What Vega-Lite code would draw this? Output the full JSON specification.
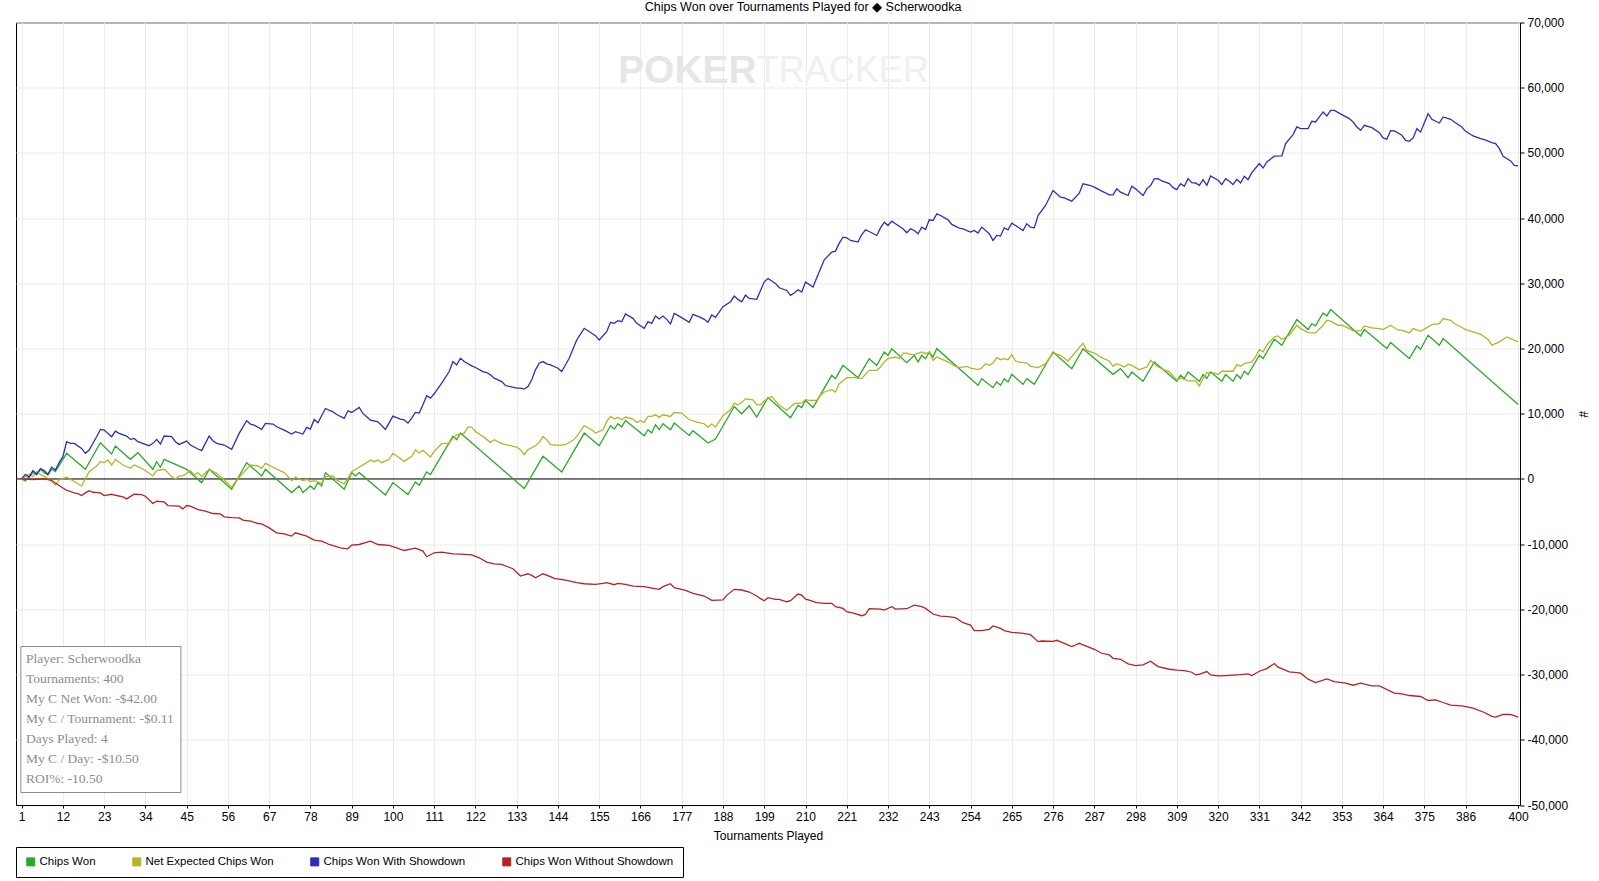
{
  "$schema": "https://vega.github.io/schema/vega-lite/v6.json",
  "description": "Chips won over tournaments played, PokerTracker style.",
  "width": 1504,
  "height": 782.5,
  "autosize": {"type": "none"},
  "padding": {"left": 16, "top": 22.5, "right": 79, "bottom": 76},
  "background": "white",
  "title": {
    "text": "Chips Won over Tournaments Played for ◆ Scherwoodka",
    "font": "Liberation Sans",
    "fontSize": 12.5,
    "fontWeight": "normal",
    "color": "black",
    "offset": 3,
    "dx": 35
  },
  "datasets": {
    "chipsWon": [
      {"t":1,"chips":0},{"t":2,"chips":-300},{"t":3,"chips":400},{"t":4,"chips":970},{"t":5,"chips":610},{"t":6,"chips":1480},{"t":7,"chips":970},{"t":8,"chips":610},{"t":9,"chips":1480},{"t":10,"chips":1120},
      {"t":13,"chips":3930},{"t":18,"chips":1480},{"t":22,"chips":5560},{"t":25,"chips":3830},{"t":26,"chips":5050},{"t":30,"chips":3010},{"t":32,"chips":4030},{"t":36,"chips":1480},{"t":37,"chips":2650},{"t":38,"chips":1790},
      {"t":39,"chips":3010},{"t":45,"chips":1480},{"t":49,"chips":-560},{"t":51,"chips":1480},{"t":57,"chips":-1580},{"t":61,"chips":2500},{"t":65,"chips":460},{"t":66,"chips":1480},{"t":73,"chips":-2090},{"t":75,"chips":-1070},
      {"t":76,"chips":-2090},{"t":78,"chips":-1070},{"t":79,"chips":-1580},{"t":80,"chips":-560},{"t":81,"chips":-1070},{"t":82,"chips":970},{"t":87,"chips":-1580},{"t":89,"chips":970},{"t":90,"chips":460},{"t":91,"chips":970},
      {"t":98,"chips":-2450},{"t":100,"chips":-560},{"t":104,"chips":-2400},{"t":106,"chips":-460},{"t":107,"chips":-970},{"t":109,"chips":1070},{"t":110,"chips":660},{"t":116,"chips":6530},{"t":117,"chips":6020},{"t":118,"chips":7040},
      {"t":135,"chips":-1480},{"t":140,"chips":3470},{"t":145,"chips":1070},{"t":151,"chips":7040},{"t":155,"chips":5100},{"t":158,"chips":8160},{"t":159,"chips":7650},{"t":160,"chips":8470},{"t":161,"chips":7960},{"t":162,"chips":8980},
      {"t":167,"chips":6630},{"t":168,"chips":7550},{"t":169,"chips":7040},{"t":170,"chips":8310},{"t":171,"chips":7550},{"t":172,"chips":8470},{"t":174,"chips":7550},{"t":175,"chips":8570},{"t":179,"chips":6680},{"t":180,"chips":7400},
      {"t":184,"chips":5510},{"t":186,"chips":6120},{"t":191,"chips":11120},{"t":193,"chips":10000},{"t":195,"chips":11220},{"t":197,"chips":9490},{"t":200,"chips":12500},{"t":206,"chips":9400},{"t":208,"chips":11290},{"t":209,"chips":10940},
      {"t":210,"chips":12060},{"t":212,"chips":10940},{"t":217,"chips":15890},{"t":218,"chips":15380},{"t":220,"chips":17420},{"t":224,"chips":15530},{"t":227,"chips":18440},{"t":229,"chips":17420},{"t":231,"chips":19470},{"t":232,"chips":18950},
      {"t":233,"chips":19980},{"t":237,"chips":17830},{"t":239,"chips":18950},{"t":240,"chips":17930},{"t":241,"chips":18950},{"t":242,"chips":18440},{"t":243,"chips":19470},{"t":244,"chips":18700},{"t":245,"chips":19980},{"t":256,"chips":14360},
      {"t":257,"chips":15380},{"t":260,"chips":14000},{"t":261,"chips":14870},{"t":262,"chips":14360},{"t":263,"chips":15380},{"t":264,"chips":14870},{"t":265,"chips":16040},{"t":268,"chips":14510},{"t":269,"chips":15380},{"t":271,"chips":14510},
      {"t":276,"chips":19470},{"t":281,"chips":16910},{"t":284,"chips":19980},{"t":292,"chips":16040},{"t":294,"chips":16910},{"t":296,"chips":15530},{"t":297,"chips":16400},{"t":300,"chips":14970},{"t":303,"chips":17930},{"t":309,"chips":14990},
      {"t":310,"chips":15910},{"t":311,"chips":15400},{"t":312,"chips":16420},{"t":315,"chips":14990},{"t":316,"chips":16010},{"t":317,"chips":15400},{"t":318,"chips":16420},{"t":321,"chips":14990},{"t":322,"chips":16010},{"t":324,"chips":14990},
      {"t":325,"chips":16010},{"t":326,"chips":15400},{"t":327,"chips":16520},{"t":328,"chips":16010},{"t":331,"chips":18980},{"t":332,"chips":18470},{"t":335,"chips":21430},{"t":337,"chips":20510},{"t":341,"chips":24440},{"t":344,"chips":22910},
      {"t":345,"chips":23830},{"t":346,"chips":23470},{"t":348,"chips":25460},{"t":349,"chips":25000},{"t":350,"chips":25980},{"t":358,"chips":21940},{"t":359,"chips":22910},{"t":365,"chips":20000},{"t":366,"chips":20920},{"t":371,"chips":18470},
      {"t":373,"chips":20410},{"t":374,"chips":19890},{"t":376,"chips":22040},{"t":379,"chips":20510},{"t":380,"chips":21530},{"t":400,"chips":11410}
    ],
    "netExpected": [
      {"t":1,"chips":-150},{"t":2,"chips":360},{"t":3,"chips":770},{"t":4,"chips":360},{"t":5,"chips":1120},{"t":6,"chips":710},{"t":8,"chips":100},{"t":9,"chips":-410},{"t":10,"chips":-920},{"t":11,"chips":-150},
      {"t":13,"chips":260},{"t":14,"chips":-50},{"t":17,"chips":-1070},{"t":19,"chips":1120},{"t":21,"chips":1990},{"t":22,"chips":2650},{"t":23,"chips":2500},{"t":24,"chips":2910},{"t":25,"chips":2140},{"t":26,"chips":3010},
      {"t":28,"chips":2140},{"t":30,"chips":1630},{"t":31,"chips":2140},{"t":33,"chips":1630},{"t":35,"chips":870},{"t":36,"chips":460},{"t":37,"chips":1280},{"t":39,"chips":1480},{"t":40,"chips":970},{"t":41,"chips":360},
      {"t":42,"chips":-50},{"t":43,"chips":460},{"t":44,"chips":460},{"t":46,"chips":1280},{"t":47,"chips":610},{"t":48,"chips":970},{"t":49,"chips":360},{"t":50,"chips":970},{"t":51,"chips":1480},{"t":53,"chips":870},
      {"t":55,"chips":-150},{"t":57,"chips":-1280},{"t":58,"chips":-410},{"t":62,"chips":2140},{"t":64,"chips":1990},{"t":65,"chips":1630},{"t":66,"chips":2400},{"t":68,"chips":1790},{"t":71,"chips":970},{"t":73,"chips":-260},
      {"t":74,"chips":260},{"t":76,"chips":-260},{"t":77,"chips":-50},{"t":78,"chips":-410},{"t":79,"chips":-260},{"t":81,"chips":-660},{"t":82,"chips":360},{"t":84,"chips":460},{"t":85,"chips":-150},{"t":87,"chips":-770},
      {"t":88,"chips":100},{"t":89,"chips":1120},{"t":91,"chips":1790},{"t":93,"chips":2500},{"t":94,"chips":2910},{"t":95,"chips":2650},{"t":96,"chips":2910},{"t":97,"chips":2500},{"t":99,"chips":3010},{"t":100,"chips":3930},
      {"t":103,"chips":2700},{"t":105,"chips":3470},{"t":106,"chips":4490},{"t":107,"chips":3980},{"t":108,"chips":4390},{"t":110,"chips":3370},{"t":111,"chips":4230},{"t":113,"chips":5410},{"t":115,"chips":5510},{"t":116,"chips":6270},
      {"t":117,"chips":6780},{"t":119,"chips":7040},{"t":120,"chips":7960},{"t":121,"chips":7960},{"t":122,"chips":7290},{"t":124,"chips":6530},{"t":126,"chips":5610},{"t":127,"chips":6020},{"t":129,"chips":5410},{"t":131,"chips":5150},
      {"t":133,"chips":4900},{"t":134,"chips":4490},{"t":135,"chips":3720},{"t":136,"chips":4490},{"t":138,"chips":5100},{"t":139,"chips":5610},{"t":140,"chips":6530},{"t":141,"chips":6020},{"t":142,"chips":5250},{"t":144,"chips":5150},
      {"t":146,"chips":5250},{"t":148,"chips":5920},{"t":149,"chips":6530},{"t":151,"chips":8160},{"t":153,"chips":7550},{"t":154,"chips":7040},{"t":156,"chips":7550},{"t":157,"chips":8820},{"t":158,"chips":9590},{"t":159,"chips":9230},
      {"t":160,"chips":9440},{"t":161,"chips":9080},{"t":162,"chips":9490},{"t":164,"chips":9180},{"t":165,"chips":8670},{"t":166,"chips":8930},{"t":167,"chips":8670},{"t":168,"chips":9590},{"t":169,"chips":9590},{"t":170,"chips":9840},
      {"t":171,"chips":9440},{"t":172,"chips":9840},{"t":174,"chips":9590},{"t":175,"chips":10200},{"t":177,"chips":10100},{"t":179,"chips":9080},{"t":181,"chips":8720},{"t":183,"chips":8470},{"t":184,"chips":7960},{"t":185,"chips":8420},
      {"t":186,"chips":7960},{"t":188,"chips":9690},{"t":190,"chips":10610},{"t":191,"chips":11630},{"t":192,"chips":11370},{"t":193,"chips":11730},{"t":194,"chips":12290},{"t":196,"chips":12140},{"t":197,"chips":11370},{"t":198,"chips":11370},
      {"t":199,"chips":11990},{"t":201,"chips":12650},{"t":203,"chips":11290},{"t":205,"chips":10530},{"t":207,"chips":11550},{"t":209,"chips":11650},{"t":210,"chips":12160},{"t":211,"chips":12060},{"t":213,"chips":12060},{"t":214,"chips":12830},
      {"t":215,"chips":13340},{"t":217,"chips":13690},{"t":218,"chips":13340},{"t":219,"chips":14610},{"t":221,"chips":15530},{"t":223,"chips":15530},{"t":225,"chips":15380},{"t":226,"chips":16040},{"t":227,"chips":16660},{"t":229,"chips":16660},
      {"t":230,"chips":17170},{"t":231,"chips":17930},{"t":232,"chips":18440},{"t":234,"chips":18700},{"t":235,"chips":18440},{"t":236,"chips":19310},{"t":237,"chips":19310},{"t":238,"chips":19110},{"t":239,"chips":19060},{"t":241,"chips":19470},
      {"t":242,"chips":19210},{"t":243,"chips":19470},{"t":244,"chips":18190},{"t":245,"chips":18700},{"t":246,"chips":18440},{"t":248,"chips":17930},{"t":250,"chips":17270},{"t":251,"chips":17070},{"t":253,"chips":17270},{"t":254,"chips":17010},
      {"t":256,"chips":16760},{"t":257,"chips":17010},{"t":258,"chips":17680},{"t":259,"chips":17420},{"t":260,"chips":17780},{"t":261,"chips":18600},{"t":262,"chips":18290},{"t":263,"chips":18440},{"t":264,"chips":18290},{"t":265,"chips":19060},
      {"t":266,"chips":18090},{"t":267,"chips":17930},{"t":269,"chips":17780},{"t":270,"chips":17270},{"t":272,"chips":17070},{"t":274,"chips":17680},{"t":276,"chips":19310},{"t":278,"chips":18960},{"t":280,"chips":18090},{"t":284,"chips":20840},
      {"t":285,"chips":19720},{"t":287,"chips":19310},{"t":289,"chips":18600},{"t":291,"chips":18090},{"t":292,"chips":17270},{"t":293,"chips":17680},{"t":295,"chips":17170},{"t":296,"chips":17580},{"t":297,"chips":17420},{"t":299,"chips":16760},
      {"t":301,"chips":17170},{"t":302,"chips":18190},{"t":304,"chips":17170},{"t":307,"chips":16420},{"t":309,"chips":15140},{"t":310,"chips":15500},{"t":312,"chips":15040},{"t":314,"chips":15040},{"t":315,"chips":14270},{"t":316,"chips":15400},
      {"t":317,"chips":16320},{"t":318,"chips":16160},{"t":319,"chips":16270},{"t":320,"chips":16010},{"t":321,"chips":16520},{"t":323,"chips":16520},{"t":324,"chips":16520},{"t":325,"chips":17540},{"t":326,"chips":17290},{"t":327,"chips":17700},
      {"t":329,"chips":17950},{"t":330,"chips":18720},{"t":331,"chips":19840},{"t":332,"chips":19490},{"t":333,"chips":20510},{"t":335,"chips":21790},{"t":336,"chips":21940},{"t":337,"chips":21380},{"t":339,"chips":22040},{"t":341,"chips":23570},
      {"t":342,"chips":23060},{"t":344,"chips":22450},{"t":346,"chips":22400},{"t":348,"chips":23570},{"t":349,"chips":24340},{"t":350,"chips":24190},{"t":352,"chips":23570},{"t":353,"chips":23570},{"t":355,"chips":23060},{"t":356,"chips":22710},
      {"t":358,"chips":22710},{"t":359,"chips":23470},{"t":361,"chips":23170},{"t":363,"chips":23060},{"t":364,"chips":22910},{"t":366,"chips":23570},{"t":368,"chips":22810},{"t":369,"chips":22810},{"t":371,"chips":22400},{"t":372,"chips":23060},
      {"t":374,"chips":22650},{"t":376,"chips":23320},{"t":377,"chips":23680},{"t":379,"chips":23830},{"t":380,"chips":24600},{"t":382,"chips":24340},{"t":383,"chips":23830},{"t":385,"chips":23220},{"t":386,"chips":22910},{"t":388,"chips":22550},
      {"t":390,"chips":22190},{"t":392,"chips":21380},{"t":393,"chips":20510},{"t":395,"chips":21020},{"t":397,"chips":21790},{"t":398,"chips":21530},{"t":400,"chips":21020}
    ],
    "withShowdown": [
      {"t":1,"chips":0},{"t":2,"chips":710},{"t":3,"chips":260},{"t":4,"chips":1280},{"t":5,"chips":710},{"t":6,"chips":1580},{"t":7,"chips":1280},{"t":8,"chips":710},{"t":9,"chips":1790},{"t":10,"chips":1380},
      {"t":11,"chips":2500},{"t":12,"chips":3420},{"t":13,"chips":5710},{"t":14,"chips":5460},{"t":15,"chips":5460},{"t":17,"chips":4690},{"t":18,"chips":3930},{"t":19,"chips":4440},{"t":21,"chips":6480},{"t":22,"chips":7600},
      {"t":23,"chips":7500},{"t":25,"chips":6480},{"t":26,"chips":7340},{"t":27,"chips":6990},{"t":29,"chips":6580},{"t":30,"chips":6070},{"t":31,"chips":6220},{"t":32,"chips":5710},{"t":34,"chips":5300},{"t":35,"chips":5100},
      {"t":36,"chips":5460},{"t":37,"chips":6070},{"t":38,"chips":5360},{"t":39,"chips":6580},{"t":41,"chips":6480},{"t":42,"chips":5710},{"t":43,"chips":5300},{"t":45,"chips":5810},{"t":46,"chips":5200},{"t":48,"chips":4590},
      {"t":49,"chips":4340},{"t":51,"chips":6580},{"t":52,"chips":5870},{"t":53,"chips":5460},{"t":55,"chips":5200},{"t":57,"chips":4540},{"t":59,"chips":6990},{"t":61,"chips":8930},{"t":62,"chips":8420},{"t":63,"chips":8260},
      {"t":65,"chips":7600},{"t":66,"chips":8520},{"t":68,"chips":8420},{"t":69,"chips":8010},{"t":71,"chips":7500},{"t":73,"chips":6890},{"t":74,"chips":7240},{"t":76,"chips":6890},{"t":77,"chips":7910},{"t":78,"chips":7650},
      {"t":79,"chips":9130},{"t":80,"chips":8620},{"t":82,"chips":10810},{"t":84,"chips":10300},{"t":85,"chips":9890},{"t":87,"chips":9280},{"t":88,"chips":10460},{"t":89,"chips":10200},{"t":91,"chips":10970},{"t":92,"chips":10050},
      {"t":94,"chips":9030},{"t":96,"chips":8770},{"t":98,"chips":7600},{"t":100,"chips":9640},{"t":102,"chips":9180},{"t":103,"chips":9080},{"t":104,"chips":8570},{"t":105,"chips":9330},{"t":106,"chips":10200},{"t":107,"chips":10100},
      {"t":108,"chips":11370},{"t":109,"chips":12750},{"t":110,"chips":12390},{"t":111,"chips":13060},{"t":113,"chips":14690},{"t":115,"chips":16470},{"t":116,"chips":18000},{"t":117,"chips":17490},{"t":118,"chips":18510},{"t":119,"chips":18000},
      {"t":121,"chips":17340},{"t":122,"chips":17090},{"t":124,"chips":16470},{"t":125,"chips":16320},{"t":126,"chips":15960},{"t":127,"chips":15450},{"t":129,"chips":14940},{"t":130,"chips":14330},{"t":131,"chips":14180},{"t":133,"chips":13920},
      {"t":134,"chips":13920},{"t":135,"chips":13770},{"t":136,"chips":14180},{"t":137,"chips":15200},{"t":138,"chips":16730},{"t":139,"chips":17750},{"t":140,"chips":18000},{"t":141,"chips":17650},{"t":142,"chips":17490},{"t":144,"chips":16980},
      {"t":145,"chips":16470},{"t":147,"chips":18510},{"t":149,"chips":21320},{"t":151,"chips":23100},{"t":153,"chips":22340},{"t":154,"chips":21980},{"t":155,"chips":21320},{"t":157,"chips":22590},{"t":158,"chips":24020},{"t":159,"chips":23870},
      {"t":160,"chips":24280},{"t":161,"chips":24120},{"t":162,"chips":25300},{"t":164,"chips":24630},{"t":165,"chips":23870},{"t":167,"chips":23100},{"t":168,"chips":24120},{"t":169,"chips":23870},{"t":170,"chips":24990},{"t":171,"chips":24530},
      {"t":172,"chips":24990},{"t":173,"chips":24480},{"t":174,"chips":23770},{"t":175,"chips":25400},{"t":177,"chips":24740},{"t":179,"chips":24020},{"t":180,"chips":25250},{"t":182,"chips":24790},{"t":183,"chips":24480},{"t":184,"chips":24020},
      {"t":185,"chips":25140},{"t":186,"chips":24790},{"t":188,"chips":26420},{"t":190,"chips":27180},{"t":191,"chips":28050},{"t":192,"chips":27540},{"t":193,"chips":27180},{"t":194,"chips":28200},{"t":195,"chips":27690},{"t":197,"chips":27540},
      {"t":199,"chips":30240},{"t":200,"chips":30750},{"t":202,"chips":29990},{"t":203,"chips":29320},{"t":205,"chips":28910},{"t":206,"chips":28150},{"t":207,"chips":28510},{"t":208,"chips":29020},{"t":209,"chips":28660},{"t":210,"chips":30190},
      {"t":211,"chips":29830},{"t":212,"chips":29420},{"t":213,"chips":30850},{"t":214,"chips":32230},{"t":215,"chips":33610},{"t":217,"chips":34790},{"t":218,"chips":34940},{"t":219,"chips":36170},{"t":220,"chips":37080},{"t":221,"chips":36980},
      {"t":222,"chips":36570},{"t":224,"chips":36320},{"t":225,"chips":37490},{"t":226,"chips":38210},{"t":227,"chips":37950},{"t":229,"chips":37340},{"t":230,"chips":38510},{"t":231,"chips":39380},{"t":232,"chips":38870},{"t":233,"chips":39540},
      {"t":234,"chips":39130},{"t":236,"chips":38360},{"t":237,"chips":37750},{"t":238,"chips":38360},{"t":239,"chips":38110},{"t":240,"chips":37600},{"t":241,"chips":38620},{"t":242,"chips":38260},{"t":243,"chips":39740},{"t":244,"chips":39640},
      {"t":245,"chips":40660},{"t":246,"chips":40400},{"t":248,"chips":39740},{"t":249,"chips":39030},{"t":251,"chips":38460},{"t":252,"chips":38360},{"t":254,"chips":37850},{"t":255,"chips":38110},{"t":256,"chips":37700},{"t":257,"chips":38620},
      {"t":259,"chips":37600},{"t":260,"chips":36570},{"t":261,"chips":37340},{"t":262,"chips":37240},{"t":263,"chips":38510},{"t":264,"chips":38210},{"t":265,"chips":39230},{"t":266,"chips":38870},{"t":268,"chips":38110},{"t":269,"chips":39130},
      {"t":270,"chips":38620},{"t":271,"chips":38510},{"t":272,"chips":40400},{"t":274,"chips":41940},{"t":276,"chips":44230},{"t":278,"chips":43210},{"t":279,"chips":43110},{"t":281,"chips":42600},{"t":283,"chips":43830},{"t":284,"chips":45260},
      {"t":286,"chips":45000},{"t":287,"chips":44750},{"t":289,"chips":44130},{"t":291,"chips":43570},{"t":292,"chips":43570},{"t":293,"chips":44490},{"t":294,"chips":43980},{"t":296,"chips":43470},{"t":297,"chips":44900},{"t":298,"chips":44490},
      {"t":300,"chips":43470},{"t":301,"chips":44490},{"t":302,"chips":45000},{"t":303,"chips":46020},{"t":304,"chips":46060},{"t":305,"chips":45700},{"t":307,"chips":45290},{"t":308,"chips":44680},{"t":309,"chips":44370},{"t":310,"chips":45290},
      {"t":311,"chips":44880},{"t":312,"chips":46060},{"t":313,"chips":45440},{"t":314,"chips":45390},{"t":315,"chips":45040},{"t":316,"chips":45900},{"t":317,"chips":45040},{"t":318,"chips":46470},{"t":320,"chips":45800},{"t":321,"chips":45140},
      {"t":322,"chips":46060},{"t":323,"chips":45650},{"t":324,"chips":45140},{"t":325,"chips":45960},{"t":326,"chips":45390},{"t":327,"chips":46420},{"t":328,"chips":45900},{"t":329,"chips":46980},{"t":331,"chips":48360},{"t":332,"chips":47690},
      {"t":333,"chips":48610},{"t":335,"chips":49500},{"t":337,"chips":49530},{"t":338,"chips":51420},{"t":340,"chips":52800},{"t":341,"chips":53980},{"t":342,"chips":53720},{"t":344,"chips":53720},{"t":345,"chips":54850},{"t":346,"chips":54750},
      {"t":348,"chips":56280},{"t":349,"chips":55660},{"t":350,"chips":56530},{"t":351,"chips":56530},{"t":353,"chips":55870},{"t":355,"chips":55260},{"t":356,"chips":54750},{"t":357,"chips":53980},{"t":358,"chips":53470},{"t":359,"chips":54230},
      {"t":361,"chips":53880},{"t":363,"chips":53110},{"t":364,"chips":52290},{"t":365,"chips":52090},{"t":366,"chips":53420},{"t":367,"chips":53370},{"t":369,"chips":52700},{"t":370,"chips":51930},{"t":371,"chips":51780},{"t":372,"chips":52290},
      {"t":373,"chips":53720},{"t":374,"chips":53210},{"t":376,"chips":56020},{"t":377,"chips":55150},{"t":379,"chips":54590},{"t":380,"chips":55510},{"t":382,"chips":55150},{"t":383,"chips":54750},{"t":385,"chips":53980},{"t":386,"chips":53310},
      {"t":388,"chips":52600},{"t":390,"chips":52190},{"t":391,"chips":52040},{"t":393,"chips":51580},{"t":394,"chips":51420},{"t":395,"chips":50660},{"t":396,"chips":49480},{"t":398,"chips":48770},{"t":399,"chips":48100},{"t":400,"chips":48000}
    ],
    "withoutShowdown": [
      {"t":1,"chips":0},{"t":4,"chips":-100},{"t":7,"chips":0},{"t":9,"chips":-200},{"t":10,"chips":-610},{"t":12,"chips":-1380},{"t":13,"chips":-1730},{"t":15,"chips":-2140},{"t":16,"chips":-2240},{"t":17,"chips":-2550},
      {"t":18,"chips":-2140},{"t":19,"chips":-1790},{"t":20,"chips":-2040},{"t":22,"chips":-2140},{"t":23,"chips":-2550},{"t":25,"chips":-2350},{"t":26,"chips":-2500},{"t":28,"chips":-2750},{"t":29,"chips":-3060},{"t":31,"chips":-2350},
      {"t":33,"chips":-2400},{"t":34,"chips":-2650},{"t":36,"chips":-3770},{"t":37,"chips":-3420},{"t":39,"chips":-3520},{"t":40,"chips":-4080},{"t":43,"chips":-4180},{"t":44,"chips":-4590},{"t":45,"chips":-4080},{"t":46,"chips":-4180},
      {"t":48,"chips":-4690},{"t":50,"chips":-4950},{"t":52,"chips":-5300},{"t":54,"chips":-5360},{"t":55,"chips":-5810},{"t":57,"chips":-5920},{"t":59,"chips":-5970},{"t":60,"chips":-6320},{"t":62,"chips":-6480},{"t":64,"chips":-6830},
      {"t":65,"chips":-6890},{"t":67,"chips":-7500},{"t":69,"chips":-8260},{"t":71,"chips":-8420},{"t":73,"chips":-8770},{"t":74,"chips":-8260},{"t":77,"chips":-8770},{"t":79,"chips":-9380},{"t":81,"chips":-9540},{"t":83,"chips":-10050},
      {"t":86,"chips":-10560},{"t":88,"chips":-10710},{"t":89,"chips":-10150},{"t":91,"chips":-10050},{"t":94,"chips":-9540},{"t":96,"chips":-10050},{"t":99,"chips":-10200},{"t":101,"chips":-10560},{"t":103,"chips":-10970},{"t":105,"chips":-10710},
      {"t":106,"chips":-10610},{"t":108,"chips":-11070},{"t":109,"chips":-11930},{"t":111,"chips":-11320},{"t":113,"chips":-11220},{"t":116,"chips":-11480},{"t":118,"chips":-11530},{"t":121,"chips":-11630},{"t":123,"chips":-12090},{"t":125,"chips":-12750},
      {"t":127,"chips":-13010},{"t":129,"chips":-13110},{"t":132,"chips":-13770},{"t":134,"chips":-14890},{"t":136,"chips":-14540},{"t":137,"chips":-14790},{"t":138,"chips":-15150},{"t":140,"chips":-14540},{"t":142,"chips":-14990},{"t":143,"chips":-15250},
      {"t":146,"chips":-15500},{"t":149,"chips":-15910},{"t":151,"chips":-16070},{"t":154,"chips":-16170},{"t":156,"chips":-16010},{"t":157,"chips":-15910},{"t":159,"chips":-16220},{"t":160,"chips":-16010},{"t":162,"chips":-16170},{"t":164,"chips":-16420},
      {"t":167,"chips":-16520},{"t":169,"chips":-16730},{"t":171,"chips":-16930},{"t":172,"chips":-16520},{"t":174,"chips":-16070},{"t":175,"chips":-16680},{"t":178,"chips":-17090},{"t":180,"chips":-17540},{"t":183,"chips":-17950},{"t":185,"chips":-18620},
      {"t":188,"chips":-18560},{"t":189,"chips":-17850},{"t":191,"chips":-16930},{"t":193,"chips":-17030},{"t":195,"chips":-17340},{"t":197,"chips":-17950},{"t":198,"chips":-18360},{"t":199,"chips":-18670},{"t":200,"chips":-18200},{"t":202,"chips":-18470},
      {"t":203,"chips":-18470},{"t":205,"chips":-18830},{"t":206,"chips":-18670},{"t":208,"chips":-17650},{"t":209,"chips":-17810},{"t":210,"chips":-18420},{"t":211,"chips":-18570},{"t":213,"chips":-18980},{"t":215,"chips":-19080},{"t":217,"chips":-19080},
      {"t":218,"chips":-19590},{"t":220,"chips":-19850},{"t":221,"chips":-20360},{"t":223,"chips":-20610},{"t":225,"chips":-20970},{"t":226,"chips":-20770},{"t":227,"chips":-19900},{"t":230,"chips":-19950},{"t":231,"chips":-20100},{"t":233,"chips":-19590},
      {"t":234,"chips":-19950},{"t":237,"chips":-19900},{"t":239,"chips":-19340},{"t":241,"chips":-19590},{"t":242,"chips":-19850},{"t":244,"chips":-20710},{"t":246,"chips":-21020},{"t":248,"chips":-21120},{"t":250,"chips":-21280},{"t":252,"chips":-22040},
      {"t":254,"chips":-22400},{"t":255,"chips":-23260},{"t":257,"chips":-23260},{"t":259,"chips":-23060},{"t":260,"chips":-22550},{"t":262,"chips":-22910},{"t":263,"chips":-23260},{"t":265,"chips":-23520},{"t":268,"chips":-23670},{"t":270,"chips":-23880},
      {"t":272,"chips":-24950},{"t":273,"chips":-24850},{"t":276,"chips":-24900},{"t":277,"chips":-24740},{"t":279,"chips":-25200},{"t":281,"chips":-25710},{"t":282,"chips":-25460},{"t":283,"chips":-25200},{"t":284,"chips":-25460},{"t":287,"chips":-26120},
      {"t":289,"chips":-26730},{"t":291,"chips":-26990},{"t":292,"chips":-27500},{"t":294,"chips":-27650},{"t":296,"chips":-28360},{"t":298,"chips":-28620},{"t":300,"chips":-28520},{"t":302,"chips":-27960},{"t":304,"chips":-28770},{"t":307,"chips":-29180},
      {"t":309,"chips":-29330},{"t":311,"chips":-29380},{"t":313,"chips":-29640},{"t":314,"chips":-30050},{"t":315,"chips":-29950},{"t":317,"chips":-29540},{"t":318,"chips":-30050},{"t":320,"chips":-30200},{"t":322,"chips":-30150},{"t":326,"chips":-30000},
      {"t":328,"chips":-29890},{"t":329,"chips":-30150},{"t":331,"chips":-29490},{"t":333,"chips":-29080},{"t":335,"chips":-28310},{"t":336,"chips":-28870},{"t":339,"chips":-29590},{"t":341,"chips":-29690},{"t":342,"chips":-29790},{"t":344,"chips":-30710},
      {"t":346,"chips":-31220},{"t":349,"chips":-30660},{"t":351,"chips":-31070},{"t":354,"chips":-31320},{"t":356,"chips":-31630},{"t":358,"chips":-31320},{"t":361,"chips":-31730},{"t":363,"chips":-31730},{"t":367,"chips":-32850},{"t":369,"chips":-32950},
      {"t":371,"chips":-33210},{"t":374,"chips":-33360},{"t":376,"chips":-33970},{"t":378,"chips":-33870},{"t":380,"chips":-34280},{"t":382,"chips":-34690},{"t":385,"chips":-34790},{"t":388,"chips":-35150},{"t":391,"chips":-35810},{"t":393,"chips":-36420},
      {"t":394,"chips":-36520},{"t":396,"chips":-36120},{"t":398,"chips":-36120},{"t":400,"chips":-36520}
    ],
    "info": [
      {"line": "Player: Scherwoodka"},
      {"line": "Tournaments: 400"},
      {"line": "My C Net Won: -$42.00"},
      {"line": "My C / Tournament: -$0.11"},
      {"line": "Days Played: 4"},
      {"line": "My C / Day: -$10.50"},
      {"line": "ROI%: -10.50"}
    ]
  },
  "layer": [
    {
      "data": {"values": [{}]},
      "mark": {"type": "text", "text": "POKER", "align": "right", "baseline": "middle", "font": "Liberation Sans", "fontSize": 39, "fontWeight": "bold", "color": "#e6e6e6"},
      "encoding": {
        "x": {"datum": 197, "type": "quantitative"},
        "y": {"datum": 62500, "type": "quantitative"}
      }
    },
    {
      "data": {"values": [{}]},
      "mark": {"type": "text", "text": "TRACKER", "align": "left", "baseline": "middle", "font": "Liberation Sans", "fontSize": 36, "color": "#f0f0f0"},
      "encoding": {
        "x": {"datum": 197, "type": "quantitative"},
        "y": {"datum": 62500, "type": "quantitative"}
      }
    },
    {
      "data": {"values": [{}]},
      "mark": {"type": "rule", "color": "black", "strokeWidth": 1},
      "encoding": {"y": {"datum": 0, "type": "quantitative"}}
    },
    {
      "data": {"name": "chipsWon"},
      "mark": {"type": "line", "strokeWidth": 1.3},
      "encoding": {
        "x": {
          "field": "t", "type": "quantitative",
          "scale": {"domain": [-0.5, 400.5], "nice": false, "zero": false},
          "axis": {
            "title": "Tournaments Played",
            "values": [1, 12, 23, 34, 45, 56, 67, 78, 89, 100, 111, 122, 133, 144, 155, 166, 177, 188, 199, 210, 221, 232, 243, 254, 265, 276, 287, 298, 309, 320, 331, 342, 353, 364, 375, 386, 400],
            "grid": true, "gridColor": "#ebebeb", "gridWidth": 1,
            "domainColor": "black", "tickColor": "black", "tickSize": 3,
            "labelPadding": 3, "labelFont": "Liberation Sans", "labelFontSize": 12, "labelColor": "black",
            "labelOverlap": false, "labelFlush": false,
            "titleFont": "Liberation Sans", "titleFontSize": 12, "titleFontWeight": "normal", "titleColor": "black", "titlePadding": 8
          }
        },
        "y": {
          "field": "chips", "type": "quantitative",
          "scale": {"domain": [-50000, 70000], "nice": false, "zero": false},
          "axis": {
            "orient": "right",
            "title": "#",
            "values": [-50000, -45000, -40000, -35000, -30000, -25000, -20000, -15000, -10000, -5000, 0, 5000, 10000, 15000, 20000, 25000, 30000, 35000, 40000, 45000, 50000, 55000, 60000, 65000, 70000],
            "labelExpr": "replace(format(datum.value, ','), '−', '-')",
            "grid": true, "gridColor": "#ebebeb", "gridWidth": 1,
            "domainColor": "black", "tickColor": "black", "tickSize": 4,
            "labelPadding": 3, "labelFont": "Liberation Sans", "labelFontSize": 12, "labelColor": "black",
            "labelOverlap": false, "labelFlush": false,
            "titleFont": "Liberation Sans", "titleFontSize": 12, "titleFontWeight": "normal", "titleColor": "black", "titlePadding": 8
          }
        },
        "color": {
          "datum": "Chips Won",
          "scale": {
            "domain": ["Chips Won", "Net Expected Chips Won", "Chips Won With Showdown", "Chips Won Without Showdown"],
            "range": ["#28aa28", "#b4b428", "#2d2db9", "#b42323"]
          },
          "legend": {
            "orient": "none", "legendX": 0, "legendY": 824.5,
            "direction": "horizontal", "columns": 4, "title": null,
            "symbolType": "square", "symbolSize": 64, "symbolStrokeWidth": 1,
            "labelFont": "Liberation Sans", "labelFontSize": 11.5, "labelColor": "black", "labelOffset": 3,
            "columnPadding": 34, "padding": 9,
            "strokeColor": "black", "fillColor": "white",
            "encode": {
              "symbols": {
                "update": {
                  "fill": {"scale": "color", "field": "value"},
                  "stroke": {"value": "black"},
                  "opacity": {"value": 1}
                }
              }
            }
          }
        }
      }
    },
    {
      "data": {"name": "netExpected"},
      "mark": {"type": "line", "strokeWidth": 1.3},
      "encoding": {
        "x": {"field": "t", "type": "quantitative"},
        "y": {"field": "chips", "type": "quantitative"},
        "color": {"datum": "Net Expected Chips Won"}
      }
    },
    {
      "data": {"name": "withShowdown"},
      "mark": {"type": "line", "strokeWidth": 1.3},
      "encoding": {
        "x": {"field": "t", "type": "quantitative"},
        "y": {"field": "chips", "type": "quantitative"},
        "color": {"datum": "Chips Won With Showdown"}
      }
    },
    {
      "data": {"name": "withoutShowdown"},
      "mark": {"type": "line", "strokeWidth": 1.3},
      "encoding": {
        "x": {"field": "t", "type": "quantitative"},
        "y": {"field": "chips", "type": "quantitative"},
        "color": {"datum": "Chips Won Without Showdown"}
      }
    },
    {
      "data": {"name": "info"},
      "mark": {"type": "point", "opacity": 0},
      "encoding": {
        "shape": {
          "field": "line", "type": "nominal", "sort": null,
          "legend": {
            "orient": "none", "legendX": 4.4, "legendY": 623.5,
            "title": null,
            "symbolSize": 100, "symbolOpacity": 0, "symbolStrokeWidth": 0,
            "labelFont": "Liberation Serif", "labelFontSize": 13.5, "labelColor": "#8c8c8c",
            "labelOffset": -14, "labelLimit": 400, "rowPadding": 5.1, "padding": 6,
            "strokeColor": "#8c8c8c", "fillColor": "white"
          }
        }
      }
    }
  ],
  "config": {
    "view": {"stroke": "black", "strokeWidth": 1}
  }
}
